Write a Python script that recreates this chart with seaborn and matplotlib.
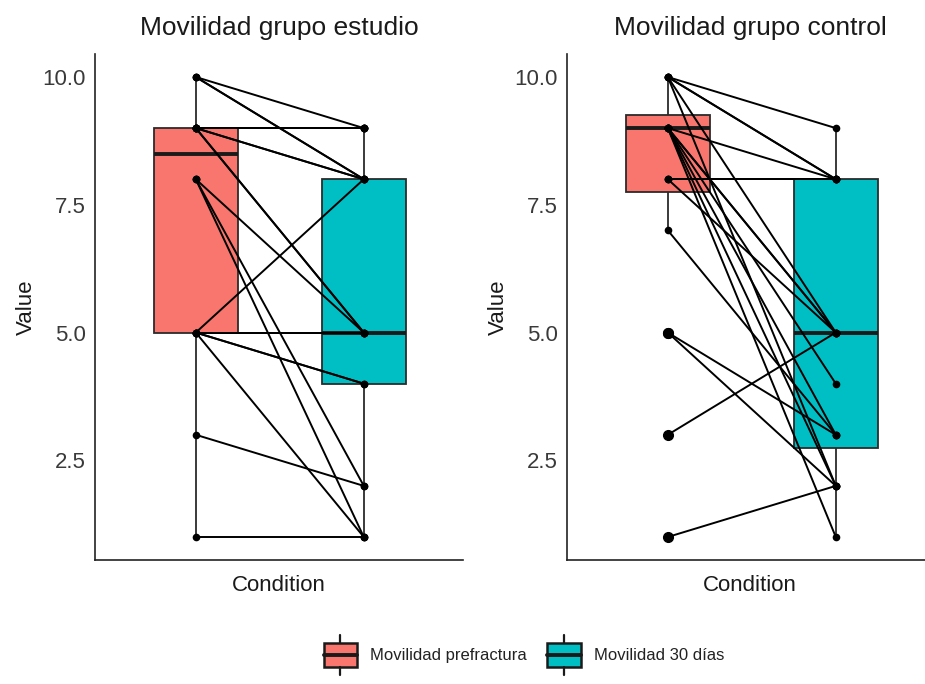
import numpy as np
import pandas as pd
import matplotlib
matplotlib.use("Agg")
import matplotlib.pyplot as plt
import seaborn as sns
from matplotlib.legend_handler import HandlerBase
from matplotlib.patches import Rectangle, Patch
from matplotlib.lines import Line2D

# Paired mobility scores, one entry per patient (prefractura -> 30 dias)
estudio_pre = [10, 10, 10, 9, 9, 9, 9, 9, 9, 9, 9, 8, 8, 8, 5, 5, 5, 5, 5, 5, 3, 1]
estudio_30 = [9, 8, 8, 9, 9, 9, 9, 8, 8, 5, 5, 5, 2, 1, 8, 5, 5, 4, 4, 1, 2, 1]

control_pre = [10, 10, 10, 10, 10, 9, 9, 9, 9, 9, 9, 9, 8, 8, 8, 7, 5, 5, 3, 1]
control_30 = [9, 8, 8, 5, 2, 8, 5, 5, 4, 3, 2, 1, 8, 8, 5, 3, 3, 2, 5, 2]

conditions = ["Movilidad prefractura", "Movilidad 30 días"]
colors = ["#F8766D", "#00BFC4"]
titles = ["Movilidad grupo estudio", "Movilidad grupo control"]
y_ticks = [2.5, 5.0, 7.5, 10.0]
y_ticklabels = ["2.5", "5.0", "7.5", "10.0"]

sns.set_style("white")
plt.rcParams["font.family"] = ["Liberation Sans", "DejaVu Sans"]

INK = "#1a1a1a"


def long_df(pre, post):
    n = len(pre)
    return pd.DataFrame({
        "id": list(range(n)) * 2,
        "Condition": [conditions[0]] * n + [conditions[1]] * n,
        "pos": [0] * n + [1] * n,
        "Value": pre + post,
    })


class BoxKey(HandlerBase):
    # legend key drawn like a ggplot boxplot glyph
    def create_artists(self, legend, orig_handle, xdescent, ydescent,
                       width, height, fontsize, trans):
        x0, y0 = -xdescent, -ydescent
        cx = x0 + width / 2
        box = Rectangle((x0, y0 + height * 0.2), width, height * 0.6,
                        facecolor=orig_handle.get_facecolor(), edgecolor=INK,
                        lw=1.8, transform=trans)
        med = Line2D([x0, x0 + width], [y0 + height / 2] * 2, color=INK,
                     lw=2.8, transform=trans)
        top = Line2D([cx, cx], [y0 + height * 0.8, y0 + height], color=INK,
                     lw=1.6, transform=trans)
        bot = Line2D([cx, cx], [y0, y0 + height * 0.2], color=INK,
                     lw=1.6, transform=trans)
        return [box, med, top, bot]


fig = plt.figure(figsize=(9.25, 6.84), dpi=100)
ax1 = fig.add_axes([95 / 925, 124 / 684, 368 / 925, 506 / 684])
ax2 = fig.add_axes([567 / 925, 124 / 684, 366 / 925, 506 / 684])

panels = [(ax1, estudio_pre, estudio_30, titles[0], 368),
          (ax2, control_pre, control_30, titles[1], 366)]

for ax, pre, post, title, wpx in panels:
    df = long_df(pre, post)
    sns.boxplot(data=df, x="Condition", y="Value", hue="Condition",
                order=conditions, hue_order=conditions, palette=colors,
                saturation=1, width=0.5, whis=1.5, linecolor="#2b2b2b",
                linewidth=1.3, showcaps=False,
                medianprops=dict(linewidth=2.8, color=INK),
                flierprops=dict(marker="o", markerfacecolor="black",
                                markeredgecolor="black", markersize=7),
                legend=False, ax=ax)
    sns.lineplot(data=df, x="pos", y="Value", units="id", estimator=None,
                 color="black", linewidth=1.4, legend=False, ax=ax, zorder=3)
    sns.stripplot(data=df, x="Condition", y="Value", order=conditions,
                  jitter=False, color="black", size=5.5, ax=ax, zorder=4)

    ax.set_xlim(-0.6, -0.6 + wpx / 168)
    ax.set_ylim(0.55, 10.45)
    ax.set_yticks(y_ticks)
    ax.set_yticklabels(y_ticklabels)
    ax.set_xticks([0, 1])
    ax.set_xticklabels(["", ""])
    ax.set_xlabel("Condition", fontsize=16, color=INK)
    ax.set_ylabel("Value", fontsize=16, color=INK)
    ax.set_title(title, fontsize=19, color=INK, pad=14)
    ax.tick_params(axis="both", length=3, width=1.1, color="#333333",
                   labelsize=16, labelcolor="#3a3a3a")
    sns.despine(ax=ax)
    for s in ["left", "bottom"]:
        ax.spines[s].set_color("#222222")
        ax.spines[s].set_linewidth(1.2)

handles = [Patch(facecolor=c) for c in colors]
fig.legend(handles, conditions, loc="center", bbox_to_anchor=(524 / 925, 1 - 655 / 684),
           ncol=2, frameon=False, fontsize=12, handler_map={Patch: BoxKey()},
           handlelength=2.0, handleheight=3.3, handletextpad=0.8, columnspacing=1.2,
           labelcolor="#222222")

fig.savefig("out.png", dpi=100)
